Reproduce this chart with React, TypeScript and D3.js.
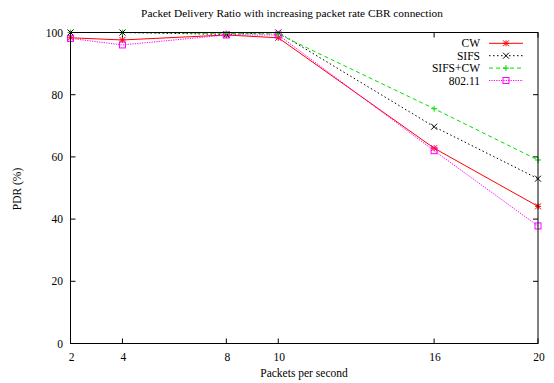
import React from "react";
import * as d3 from "d3";

const xValues = [2, 4, 8, 10, 16, 20];
const cw = [98.3, 97.6, 99.2, 98.3, 62.8, 44.1];
const sifs = [100, 100, 99.4, 100, 69.7, 53];
const sifsCw = [100, 100, 99.7, 99.5, 75.5, 59];
const ieee = [98.1, 96, 99.2, 99.2, 62, 37.8];
const yTicks = [0, 20, 40, 60, 80, 100];
const seriesNames = ["CW", "SIFS", "SIFS+CW", "802.11"];

const W = 554, H = 383;
const L = 70.5, R = 538, T = 32.5, B = 343.5;
const font = "'Liberation Serif', 'Times New Roman', serif";
const fs = 11.5;

const x = d3.scaleLinear().domain([2, 20]).range([L, R]);
const y = d3.scaleLinear().domain([0, 100]).range([B, T]);

type Marker = "star" | "x" | "plus" | "box";
const series = [
  { name: seriesNames[0], data: cw, color: "#ff0000", dash: "", marker: "star" as Marker },
  { name: seriesNames[1], data: sifs, color: "#000000", dash: "1.5,2.5", marker: "x" as Marker },
  { name: seriesNames[2], data: sifsCw, color: "#00e000", dash: "4,3", marker: "plus" as Marker },
  { name: seriesNames[3], data: ieee, color: "#ff00ff", dash: "1.2,1.2", marker: "box" as Marker },
];

function MarkerShape({ cx, cy, type, color }: { cx: number; cy: number; type: Marker; color: string }) {
  const s = 3;
  if (type === "box")
    return <rect x={cx - s} y={cy - s} width={2 * s} height={2 * s} fill="none" stroke={color} strokeWidth={1} />;
  const plus = `M${cx - s},${cy}L${cx + s},${cy}M${cx},${cy - s}L${cx},${cy + s}`;
  const xs = `M${cx - s},${cy - s}L${cx + s},${cy + s}M${cx - s},${cy + s}L${cx + s},${cy - s}`;
  const d = type === "plus" ? plus : type === "x" ? xs : plus + xs;
  return <path d={d} stroke={color} strokeWidth={1} fill="none" />;
}

export default function App() {
  const line = d3.line<number>().x((_, i) => x(xValues[i])).y((v) => y(v));
  const tl = 5;
  return (
    <svg width={W} height={H} style={{ position: "absolute", left: 0, top: 0, background: "#fff" }}>
      <rect width={W} height={H} fill="#fff" />
      <text x={292} y={17} fontFamily={font} fontSize={11.3} textAnchor="middle">
        Packet Delivery Ratio with increasing packet rate CBR connection
      </text>
      {yTicks.map((t) => (
        <g key={"y" + t}>
          <line x1={L} x2={L + tl} y1={y(t)} y2={y(t)} stroke="#000" />
          <line x1={R} x2={R - tl} y1={y(t)} y2={y(t)} stroke="#000" />
          <text x={63} y={y(t) + 4} fontFamily={font} fontSize={fs} textAnchor="end">{t}</text>
        </g>
      ))}
      {xValues.map((t) => (
        <g key={"x" + t}>
          <line x1={x(t)} x2={x(t)} y1={B} y2={B - tl} stroke="#000" />
          <line x1={x(t)} x2={x(t)} y1={T} y2={T + tl} stroke="#000" />
          <text x={x(t) + 1} y={361} fontFamily={font} fontSize={fs} textAnchor="middle">{t}</text>
        </g>
      ))}
      <text x={304} y={377} fontFamily={font} fontSize={fs} textAnchor="middle">Packets per second</text>
      <text transform={`translate(21,${189}) rotate(-90)`} fontFamily={font} fontSize={fs} textAnchor="middle">PDR (%)</text>
      {series.map((s) => (
        <g key={s.name}>
          <path d={line(s.data) || ""} fill="none" stroke={s.color} strokeWidth={1} strokeDasharray={s.dash || undefined} />
          {s.data.map((v, i) => (
            <MarkerShape key={i} cx={x(xValues[i])} cy={y(v)} type={s.marker} color={s.color} />
          ))}
        </g>
      ))}
      {series.map((s, i) => {
        const ly = 43.3 + i * 12.4;
        return (
          <g key={"lg" + s.name}>
            <text x={480} y={ly + 4} fontFamily={font} fontSize={fs} textAnchor="end">{s.name}</text>
            <line x1={489} x2={523} y1={ly} y2={ly} stroke={s.color} strokeDasharray={s.dash || undefined} />
            <MarkerShape cx={506} cy={ly} type={s.marker} color={s.color} />
          </g>
        );
      })}
      <rect x={L} y={T} width={R - L} height={B - T} fill="none" stroke="#000" strokeWidth={1} />
    </svg>
  );
}
